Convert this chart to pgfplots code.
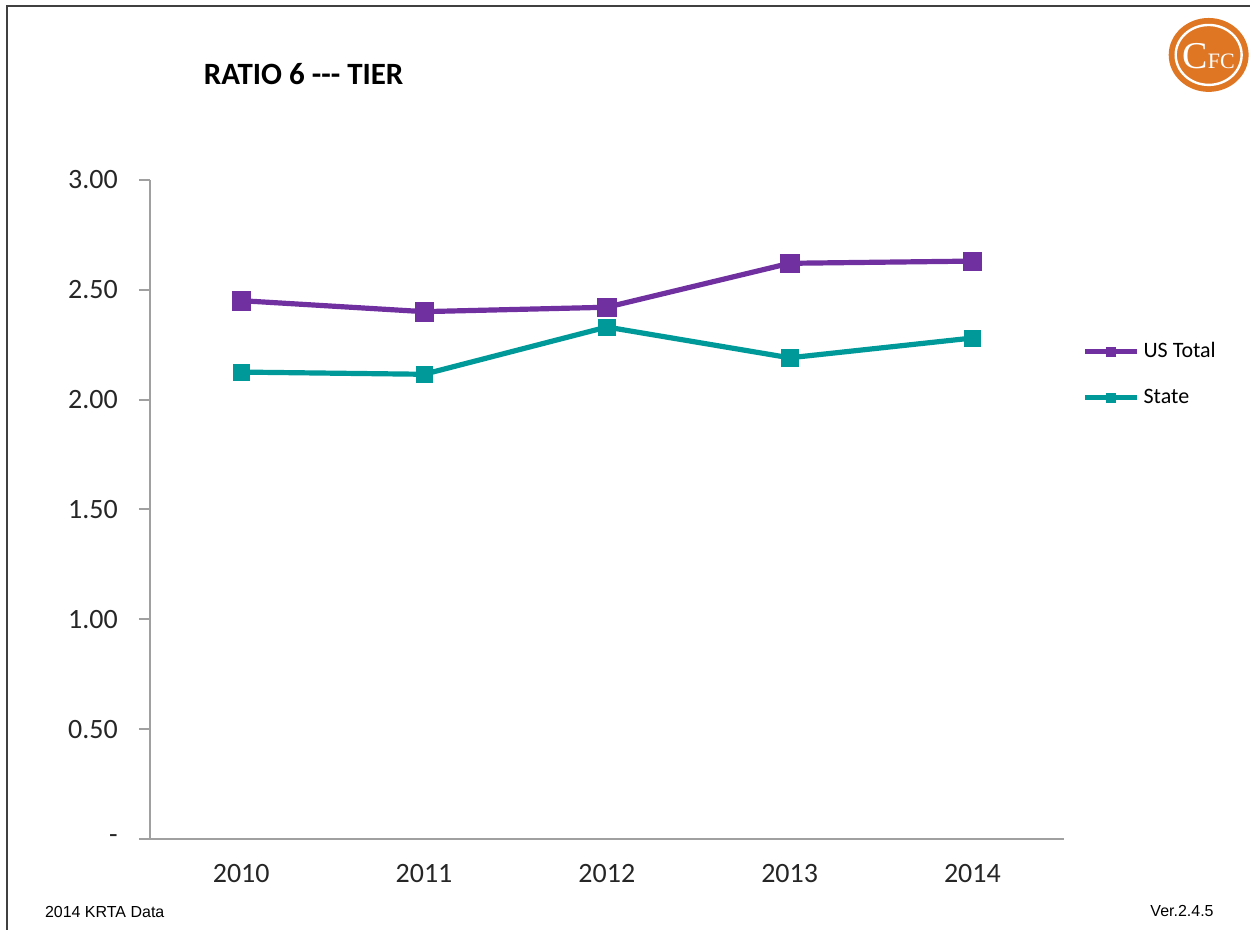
\documentclass[border=0pt]{standalone}
\usepackage{pgfplots}
\pgfplotsset{compat=1.18}
\usepackage{fontspec}
\setmainfont{Carlito}
\newfontfamily\arialfont{Liberation Sans}
\definecolor{uspurple}{RGB}{112,48,160}
\definecolor{stateteal}{RGB}{0,153,153}
\definecolor{axgray}{RGB}{160,160,160}
\definecolor{cfcorange}{RGB}{222,118,36}
\begin{document}
\begin{tikzpicture}
\begin{scope}[x=0.5pt,y=0.5pt]
% canvas 1251 x 931 px, y measured upward from bottom
\path (0,0) rectangle (1251,931);
\draw[line width=1.4pt,black!75] (7,0) -- (7,925) -- (1251,925);
\node[anchor=west,font=\bfseries\fontsize{15.5}{18}\selectfont] at (197,857) {RATIO 6 -{}-{}- TIER};
\node[anchor=west,font=\arialfont\fontsize{8}{9}\selectfont] at (38,18) {2014 KRTA Data};
\node[anchor=east,font=\arialfont\fontsize{8}{9}\selectfont] at (1222,19) {Ver.2.4.5};
% logo
\fill[cfcorange] (1210,876) ellipse [x radius=40, y radius=37];
\draw[white,line width=1.2pt] (1210,876) ellipse [x radius=33, y radius=30];
\node[white,font=\fontspec{Liberation Serif}\fontsize{13}{14}\selectfont,inner sep=0pt] at (1210,875) {\fontsize{19}{20}\selectfont C\fontsize{11}{12}\selectfont FC};
\end{scope}
\begin{axis}[
  at={(75pt,45.5pt)}, anchor=south west,
  scale only axis, width=457.5pt, height=330pt,
  xmin=-0.5, xmax=4.5, ymin=0, ymax=3,
  axis x line*=bottom, axis y line*=left,
  axis line style={axgray, line width=1pt},
  xtick={0,1,2,3,4}, xticklabels={2010,2011,2012,2013,2014},
  extra x ticks={-0.5,0.5,1.5,2.5,3.5,4.5}, extra x tick labels={},
  extra x tick style={major tick length=4pt, tick align=outside, major tick style={axgray,line width=1pt}},
  xtick style={draw=none},
  ytick={0,0.5,1,1.5,2,2.5,3},
  yticklabels={-,0.50,1.00,1.50,2.00,2.50,3.00},
  ytick style={axgray,line width=1pt},
  major tick length=5.5pt, tick align=outside,
  ticklabel style={font=\fontsize{14}{17}\selectfont, text=black!85},
  xticklabel style={yshift=-3.5pt},
  yticklabel style={xshift=-7pt},
  clip=false,
  legend style={at={(1.02,0.705)}, anchor=west, draw=none, fill=none,
    font=\fontsize{11}{13}\selectfont, row sep=10pt, inner sep=0pt},
  legend cell align=left,
  legend image code/.code={%
    \draw[#1,mark=none] (0pt,0pt) -- (26pt,0pt);
    \draw[#1,mark size=2.2pt] plot coordinates {(13pt,0pt)};},
]
\addplot[uspurple, line width=2.6pt, mark=square*, mark size=4.6pt, mark options={line width=0.2pt}]
  coordinates {(0,2.45) (1,2.40) (2,2.42) (3,2.62) (4,2.63)};
\addlegendentry{US Total}
\addplot[stateteal, line width=2.6pt, mark=square*, mark size=4.1pt, mark options={line width=0.2pt}]
  coordinates {(0,2.125) (1,2.115) (2,2.33) (3,2.19) (4,2.28)};
\addlegendentry{State}
\end{axis}
\end{tikzpicture}
\end{document}
